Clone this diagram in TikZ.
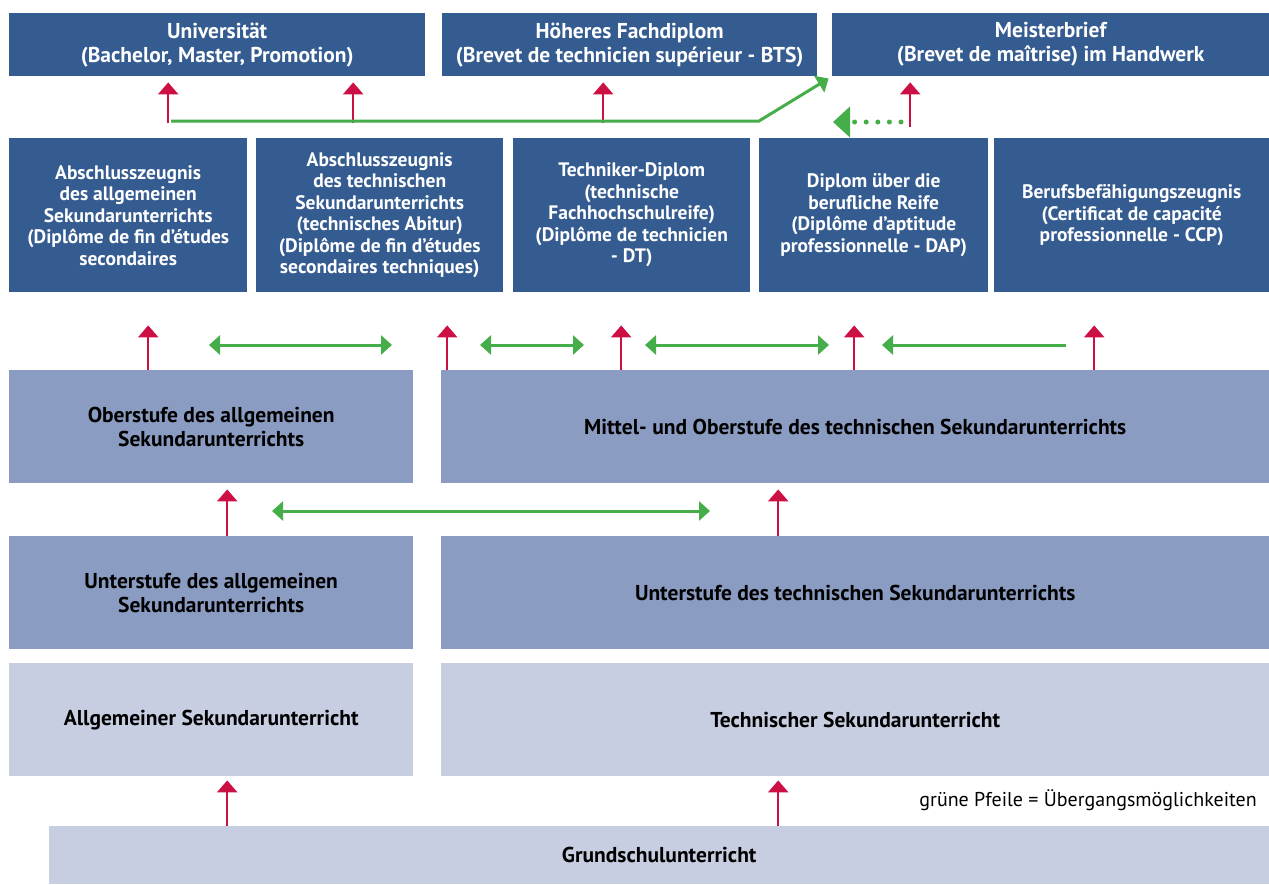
\documentclass[tikz,border=0pt]{standalone}
\usepackage{fontspec}
\setmainfont{PT Sans}
\usetikzlibrary{arrows.meta, positioning, calc}
\definecolor{darkblue}{RGB}{53,92,145}
\definecolor{midblue}{RGB}{138,156,194}
\definecolor{lightblue}{RGB}{200,206,226}
\definecolor{upred}{RGB}{204,16,68}
\definecolor{passgreen}{RGB}{69,174,73}
\newcommand{\bigtext}{\fontsize{21.5}{24}\selectfont\bfseries}
\newcommand{\smalltext}{\fontsize{19.5}{21.5}\selectfont\bfseries}
\tikzset{
    box/.style={anchor=north west, inner sep=0pt, align=center},
    dbox/.style={box, fill=darkblue, text=white},
    mbox/.style={box, fill=midblue, text=black, font=\bigtext},
    lbox/.style={box, fill=lightblue, text=black, font=\bigtext},
    redup/.style={draw=upred, line width=2.5pt, -{Triangle[width=20pt,length=12pt]}},
    pass/.style={draw=passgreen, line width=3pt},
    passtip/.style={-{Triangle[width=19pt,length=11pt]}},
    passboth/.style={{Triangle[width=19pt,length=11pt]}-{Triangle[width=19pt,length=11pt]}},
}

\begin{document}
\begin{tikzpicture}[x=1pt, y=-1pt]
    \useasboundingbox (0,0) rectangle (1269,884);

    % Abschluesse oben
    \node[dbox, font=\bigtext, minimum width=416pt, minimum height=63pt] (uni) at (9,13)
        {Universität\\(Bachelor, Master, Promotion)};
    \node[dbox, font=\bigtext, minimum width=375pt, minimum height=63pt] (bts) at (442,13)
        {Höheres Fachdiplom\\(Brevet de technicien supérieur - BTS)};
    \node[dbox, font=\bigtext, minimum width=437pt, minimum height=63pt] (meister) at (832,13)
        {Meisterbrief\\(Brevet de maîtrise) im Handwerk};

    % Diplome
    \node[dbox, font=\smalltext, minimum width=238pt, minimum height=154pt] (abs1) at (9,138)
        {Abschlusszeugnis\\des allgemeinen\\Sekundarunterrichts\\(Diplôme de fin d’études\\secondaires};
    \node[dbox, font=\smalltext, minimum width=247pt, minimum height=154pt] (abs2) at (256,138)
        {Abschlusszeugnis\\des technischen\\Sekundarunterrichts\\(technisches Abitur)\\(Diplôme de fin d’études\\secondaires techniques)};
    \node[dbox, font=\smalltext, minimum width=237pt, minimum height=154pt] (dt) at (513,138)
        {Techniker-Diplom\\(technische\\Fachhochschulreife)\\(Diplôme de technicien\\- DT)};
    \node[dbox, font=\smalltext, minimum width=229pt, minimum height=154pt] (dap) at (759,138)
        {Diplom über die\\berufliche Reife\\(Diplôme d’aptitude\\professionnelle - DAP)};
    \node[dbox, font=\smalltext, minimum width=275pt, minimum height=154pt] (ccp) at (994,138)
        {Berufsbefähigungszeugnis\\(Certificat de capacité\\professionnelle - CCP)};

    % Sekundarunterricht
    \node[mbox, minimum width=404pt, minimum height=113pt] (ober) at (9,370)
        {Oberstufe des allgemeinen\\Sekundarunterrichts};
    \node[mbox, minimum width=828pt, minimum height=113pt] (mittel) at (441,370)
        {Mittel- und Oberstufe des technischen Sekundarunterrichts};
    \node[mbox, minimum width=404pt, minimum height=113pt] (unterA) at (9,536)
        {Unterstufe des allgemeinen\\Sekundarunterrichts};
    \node[mbox, minimum width=828pt, minimum height=113pt] (unterT) at (441,536)
        {Unterstufe des technischen Sekundarunterrichts};
    \node[lbox, minimum width=404pt, minimum height=113pt] (allg) at (9,663)
        {Allgemeiner Sekundarunterricht};
    \node[lbox, minimum width=828pt, minimum height=113pt] (tech) at (441,663)
        {Technischer Sekundarunterricht};
    \node[lbox, minimum width=1220pt, minimum height=58pt] (grund) at (49,826)
        {Grundschulunterricht};

    \node[anchor=east, inner sep=0pt, font=\fontsize{20}{24}\selectfont] (legend) at (1257,800)
        {grüne Pfeile = Übergangsmöglichkeiten};

    % rote Pfeile
    \coordinate (r1) at ([xshift=40pt]abs1.north);
    \coordinate (r2) at ([xshift=-26.5pt]abs2.north);
    \coordinate (r3) at ([xshift=-28.5pt]dt.north);
    \coordinate (r4) at ([xshift=36.5pt]dap.north);
    \draw[redup, shorten <=15pt, shorten >=6pt] (r1) -- (r1 |- uni.south);
    \draw[redup, shorten <=15pt, shorten >=6pt] (r2) -- (r2 |- uni.south);
    \draw[redup, shorten <=15pt, shorten >=6pt] (r3) -- (r3 |- bts.south);
    \draw[redup, shorten <=11pt, shorten >=6pt] (r4) -- (r4 |- meister.south);

    \coordinate (s1) at ([xshift=-63pt]ober.north);
    \coordinate (s2) at ([xshift=-408pt]mittel.north);
    \coordinate (s3) at ([xshift=-234pt]mittel.north);
    \coordinate (s4) at ([xshift=-1pt]mittel.north);
    \coordinate (s5) at ([xshift=239pt]mittel.north);
    \draw[redup, shorten >=33pt] (s1) -- (s1 |- abs1.south);
    \draw[redup, shorten >=33pt] (s2) -- (s2 |- abs2.south);
    \draw[redup, shorten >=33pt] (s3) -- (s3 |- dt.south);
    \draw[redup, shorten >=33pt] (s4) -- (s4 |- dap.south);
    \draw[redup, shorten >=33pt] (s5) -- (s5 |- ccp.south);

    \coordinate (u1) at ([xshift=16pt]unterA.north);
    \coordinate (u2) at ([xshift=-77pt]unterT.north);
    \draw[redup, shorten >=6pt] (u1) -- (u1 |- ober.south);
    \draw[redup, shorten >=6pt] (u2) -- (u2 |- mittel.south);

    \coordinate (b1) at ([xshift=-432pt]grund.north);
    \coordinate (b2) at ([xshift=119pt]grund.north);
    \draw[redup, shorten >=4pt] (b1) -- (b1 |- allg.south);
    \draw[redup, shorten >=4pt] (b2) -- (b2 |- tech.south);

    % gruene Pfeile
    \coordinate (g0) at (171,121);
    \coordinate (gk) at (759,121);
    \draw[pass, passtip, shorten >=4pt] (g0) -- (gk) -- (meister.south west);
    \coordinate (gd) at (901,122);
    \draw[pass, line width=5pt, line cap=round, dash pattern=on 0pt off 11.6pt,
          -{Triangle[width=30pt,length=17pt]}] (gd) -- (833,122);

    \coordinate (ga1) at (209,345); \coordinate (gb1) at (392,345);
    \coordinate (ga2) at (480,345); \coordinate (gb2) at (584,345);
    \coordinate (ga3) at (645,345); \coordinate (gb3) at (829,345);
    \coordinate (ga4) at (882,345); \coordinate (gb4) at (1066,345);
    \draw[pass, passboth] (ga1) -- (gb1);
    \draw[pass, passboth] (ga2) -- (gb2);
    \draw[pass, passboth] (ga3) -- (gb3);
    \draw[pass, passtip] (gb4) -- (ga4);

    \coordinate (ga5) at (272,511); \coordinate (gb5) at (710,511);
    \draw[pass, passboth] (ga5) -- (gb5);
\end{tikzpicture}
\end{document}
